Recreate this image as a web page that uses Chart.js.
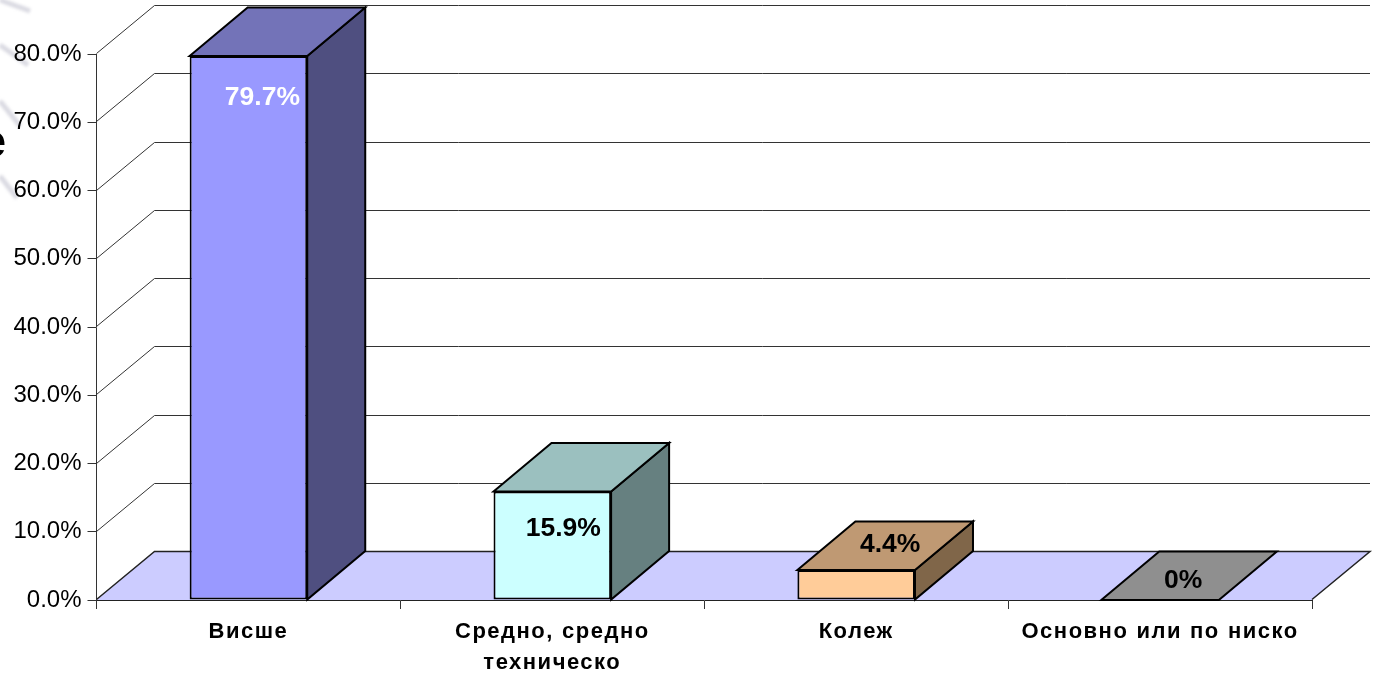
<!DOCTYPE html>
<html>
<head>
<meta charset="utf-8">
<title>Образование</title>
<script src="https://cdn.jsdelivr.net/npm/chart.js@4"></script>
<style>
  html, body { margin: 0; padding: 0; background: #fff; overflow: hidden; }
  canvas { display: block; }
</style>
</head>
<body>
<canvas id="eduChart" width="1375" height="674"></canvas>
<script>
const categories = [['Висше'], ['Средно, средно', 'техническо'], ['Колеж'], ['Основно или по ниско']];
const values = [79.7, 15.9, 4.4, 0];
const valueLabels = ['79.7%', '15.9%', '4.4%', '0%'];
const frontColors = ['#9999FF', '#CCFFFF', '#FFCC99', '#969696'];
const topColors = ['#7373B8', '#9BC0BF', '#BF9973', '#8F8F8F'];
const sideColors = ['#4F4F80', '#668080', '#806649', '#696969'];
const labelColors = ['#FFFFFF', '#000000', '#000000', '#000000'];
const yMax = 80;
const yStep = 10;

// oblique offset of the 3D box
const depthX = 58;
const depthY = -48.5;
// data label offset from the bar's top front corner centre
const labelShift = [[14, 42], [11, 37], [34, -25], [23, -19]];

const FONT = '"Liberation Sans", Arial, sans-serif';

function poly(ctx, pts, fill, stroke, lineWidth) {
  ctx.beginPath();
  pts.forEach((p, i) => i ? ctx.lineTo(p[0], p[1]) : ctx.moveTo(p[0], p[1]));
  ctx.closePath();
  if (fill) { ctx.fillStyle = fill; ctx.fill(); }
  if (stroke) { ctx.strokeStyle = stroke; ctx.lineWidth = lineWidth; ctx.stroke(); }
}

// the category labels are spaced out wider than plain canvas text
function spaceLabels(scale, letterSpacing, wordSpacing) {
  if (scale._spaced) return;
  scale._spaced = true;
  const drawLabels = scale.drawLabels;
  scale.drawLabels = function (area) {
    const ctx = this.ctx;
    ctx.save();
    ctx.letterSpacing = letterSpacing;
    ctx.wordSpacing = wordSpacing;
    drawLabels.call(this, area);
    ctx.restore();
  };
}

const box3d = {
  id: 'box3d',
  afterLayout(chart) {
    spaceLabels(chart.scales.x, '1.5px', '0.5px');
  },
  beforeDraw(chart) {
    const ctx = chart.ctx;
    ctx.save();
    // leftovers of the slide behind the chart: faint streaks and a clipped letter
    ctx.filter = 'blur(1.5px)';
    ctx.strokeStyle = '#DADAE2';
    ctx.lineWidth = 5;
    [[0, 0, 30, 11], [0, 45, 28, 65], [0, 101, 20, 126], [0, 176, 17, 198]].forEach(s => {
      ctx.beginPath();
      ctx.moveTo(s[0], s[1]);
      ctx.lineTo(s[2], s[3]);
      ctx.stroke();
    });
    ctx.filter = 'none';
    ctx.fillStyle = '#000';
    ctx.font = 'bold 46px ' + FONT;
    ctx.textAlign = 'right';
    ctx.textBaseline = 'alphabetic';
    ctx.fillText('e', 6, 157);
    ctx.restore();
  },
  beforeDatasetsDraw(chart) {
    const ctx = chart.ctx;
    const { left, right } = chart.chartArea;
    const y = chart.scales.y;
    const floorY = y.getPixelForValue(0);

    ctx.save();
    // floor
    poly(ctx, [[left, floorY], [left + depthX, floorY + depthY], [right + depthX, floorY + depthY], [right, floorY]], '#CCCCFF');

    // walls: diagonal + back line for every tick, back line snapped to the pixel grid
    y.ticks.forEach(t => {
      const py = Math.round(y.getPixelForValue(t.value)) - 0.5;
      const backY = Math.floor(py + depthY) + 0.5;
      ctx.strokeStyle = t.value === 0 ? '#222222' : '#333333';
      ctx.lineWidth = t.value === 0 ? 1.5 : 1;
      ctx.beginPath();
      ctx.moveTo(left, py);
      ctx.lineTo(left + depthX, backY);
      ctx.lineTo(right + depthX, backY);
      if (t.value === 0) ctx.lineTo(right, py);
      ctx.stroke();
    });

    // side and top of every bar, the front comes from the bar element itself
    const bars = chart.getDatasetMeta(0).data;
    bars.forEach((bar, i) => {
      const x0 = bar.x - bar.width / 2;
      const x1 = bar.x + bar.width / 2;
      const top = bar.y;
      const base = bar.base;
      if (top < base) {
        poly(ctx, [[x1, top], [x1 + depthX, top + depthY], [x1 + depthX, base + depthY], [x1, base]], sideColors[i], '#000', 2);
      }
      poly(ctx, [[x0, top], [x0 + depthX, top + depthY], [x1 + depthX, top + depthY], [x1, top]], topColors[i], '#000', 2);
    });
    ctx.restore();
  },
  afterDatasetsDraw(chart) {
    const ctx = chart.ctx;
    ctx.save();
    ctx.font = 'bold 26.5px ' + FONT;
    ctx.textAlign = 'center';
    ctx.textBaseline = 'middle';
    chart.getDatasetMeta(0).data.forEach((bar, i) => {
      ctx.fillStyle = labelColors[i];
      ctx.fillText(valueLabels[i], bar.x + labelShift[i][0], bar.y + labelShift[i][1]);
    });
    ctx.restore();
  }
};

new Chart(document.getElementById('eduChart'), {
  type: 'bar',
  data: {
    labels: categories,
    datasets: [{
      data: values,
      backgroundColor: frontColors,
      borderColor: '#000000',
      borderWidth: 2,
      borderSkipped: false,
      categoryPercentage: 1,
      barPercentage: 0.387
    }]
  },
  options: {
    responsive: false,
    animation: false,
    layout: { padding: { top: 54, right: 63, bottom: 0, left: 0 } },
    plugins: { legend: { display: false }, tooltip: { enabled: false } },
    scales: {
      x: {
        afterFit(scale) { scale.height = 74; },
        border: { color: '#222222', width: 1 },
        grid: { drawOnChartArea: false, tickLength: 9, tickColor: '#333333' },
        ticks: {
          color: '#000000',
          maxRotation: 0,
          padding: 7,
          font: { family: FONT, size: 22, weight: 'bold', lineHeight: 1.41 }
        }
      },
      y: {
        min: 0,
        max: yMax,
        afterFit(scale) { scale.width = 96.5; },
        border: { color: '#333333', width: 1 },
        grid: { drawOnChartArea: false, tickLength: 9, tickColor: '#333333' },
        ticks: {
          stepSize: yStep,
          color: '#000000',
          padding: 6,
          font: { family: FONT, size: 24 },
          callback: v => v.toFixed(1) + '%'
        }
      }
    }
  },
  plugins: [box3d]
});
</script>
</body>
</html>
